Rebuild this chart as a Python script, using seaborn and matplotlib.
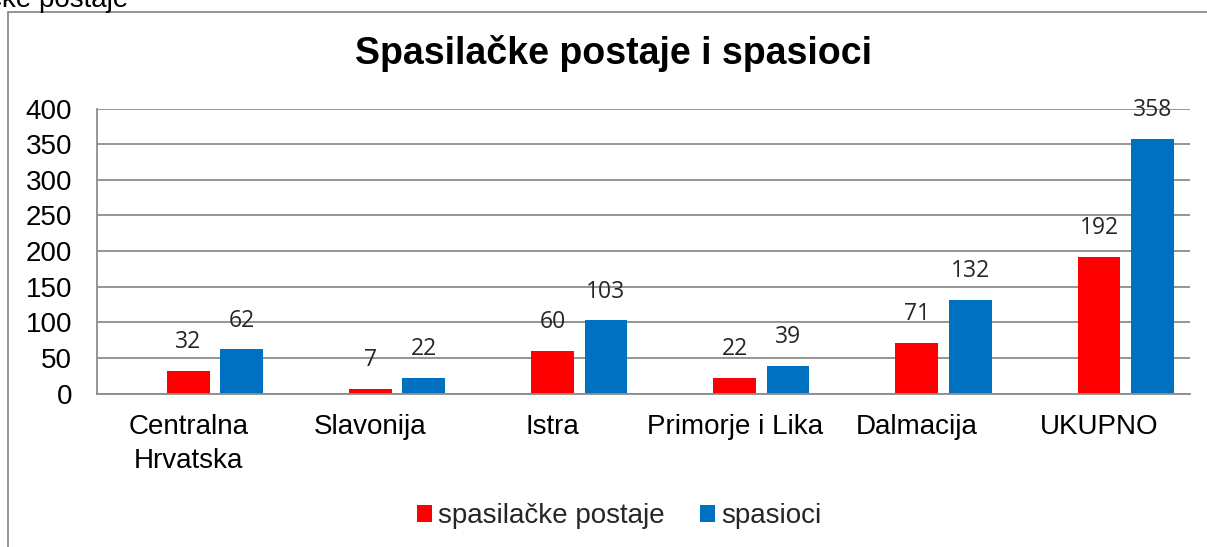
import matplotlib
matplotlib.use("Agg")
import matplotlib.pyplot as plt
from matplotlib.patches import Patch
from matplotlib.lines import Line2D
import seaborn as sns
import pandas as pd

categories = ["Centralna\nHrvatska", "Slavonija", "Istra", "Primorje i Lika", "Dalmacija", "UKUPNO"]
postaje = [32, 7, 60, 22, 71, 192]
spasioci = [62, 22, 103, 39, 132, 358]
series_names = ["spasilačke postaje", "spasioci"]
yticks = [0, 50, 100, 150, 200, 250, 300, 350, 400]

colors = {"_empty": "#FFFFFF", "spasilačke postaje": "#FF0000", "spasioci": "#0070C0"}

df = pd.DataFrame({
    "kategorija": categories * 2,
    "vrijednost": postaje + spasioci,
    "serija": [series_names[0]] * len(categories) + [series_names[1]] * len(categories),
})

sns.set_theme(style="white")
plt.rcParams["font.family"] = ["Liberation Sans", "DejaVu Sans"]

fig = plt.figure(figsize=(12.07, 5.47), dpi=100)
ax = fig.add_axes([0.0804, 0.2806, 0.9056, 0.5207])

sns.barplot(data=df, x="kategorija", y="vrijednost", hue="serija",
            hue_order=["_empty"] + series_names, order=categories,
            palette=colors, width=0.88, gap=0.2, dodge=True,
            errorbar=None, legend=False, ax=ax, saturation=1, linewidth=0)

ax.set_ylim(0, 400)
ax.set_xlim(-0.5, len(categories) - 0.5)
ax.set_yticks(yticks)
ax.yaxis.grid(True, color="#8c8c8c", linewidth=1.3)
ax.set_axisbelow(True)
ax.set_xlabel("")
ax.set_ylabel("")
for s in ["top", "right"]:
    ax.spines[s].set_visible(False)
for s in ["left", "bottom"]:
    ax.spines[s].set_color("#8c8c8c")
    ax.spines[s].set_linewidth(1.3)
ax.tick_params(axis="y", length=0, pad=18, labelsize=20, labelcolor="black")
ax.tick_params(axis="x", length=0, pad=15, labelsize=20, labelcolor="black")
for t in ax.get_xticklabels():
    t.set_linespacing(1.4)

for cont in ax.containers:
    heights = [p.get_height() for p in cont.patches]
    if all(h == h and h > 0 for h in heights):
        ax.bar_label(cont, labels=[f"{int(round(h))}" for h in heights], padding=12,
                     fontsize=16.5, color="#262626", family=["Open Sans", "DejaVu Sans"])

fig.suptitle("Spasilačke postaje i spasioci", x=0.508, y=0.936, fontsize=27,
             fontweight="bold", color="black")

handles = [Patch(facecolor=colors[n], edgecolor="none") for n in series_names]
fig.legend(handles, series_names, loc="center", bbox_to_anchor=(0.513, 0.056), ncol=2,
           frameon=False, fontsize=20, handlelength=0.55, handleheight=0.55,
           handletextpad=0.22, columnspacing=1.25)

# chart frame
fig.add_artist(Line2D([8 / 1207, 8 / 1207], [0, 1 - 12 / 547], transform=fig.transFigure,
                      color="#8c8c8c", linewidth=1.3))
fig.add_artist(Line2D([8 / 1207, 1], [1 - 12 / 547, 1 - 12 / 547], transform=fig.transFigure,
                      color="#8c8c8c", linewidth=1.3))
fig.text(128 / 1207, 1 - 7 / 547, "Spasilačke postaje", ha="right", va="baseline",
         fontsize=20, color="black")

fig.savefig("out.png", dpi=100)
